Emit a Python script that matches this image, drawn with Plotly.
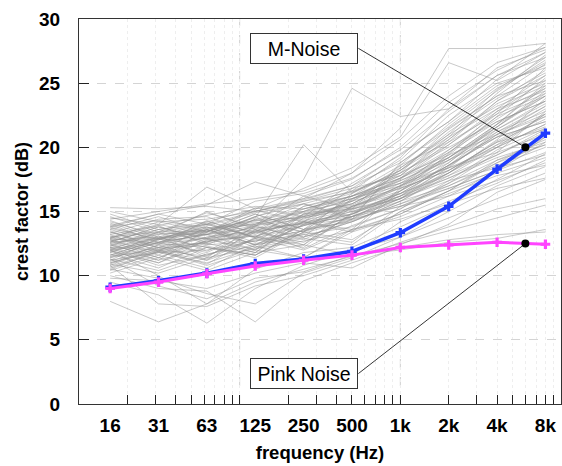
import math
import plotly.graph_objects as go

FREQS = [15.625, 31.25, 62.5, 125, 250, 500, 1000, 2000, 4000, 8000]
TICK_TEXT = ["16", "31", "63", "125", "250", "500", "1k", "2k", "4k", "8k"]
MINOR_TICKS = [20, 30, 40, 50, 60, 70, 80, 90, 100,
               200, 300, 400, 500, 600, 700, 800, 900, 1000,
               2000, 3000, 4000, 5000, 6000, 7000, 8000, 9000]
MAJOR_GRID = [100, 1000]

M_NOISE = [9.1, 9.6, 10.2, 10.95, 11.3, 11.9, 13.35, 15.4, 18.3, 21.1]
PINK_NOISE = [9.0, 9.5, 10.15, 10.75, 11.2, 11.6, 12.2, 12.4, 12.6, 12.45]

ANNOT_FREQ = 6000
ANNOT_M = 20.0
ANNOT_PINK = 12.5

SIGNALS = [
    [15.3, 15.2, 15.4, 15.0, 15.8, 16.5, 18.2, 21.0, 24.5, 27.0],
    [14.5, 14.0, 16.9, 15.2, 16.0, 17.0, 19.5, 22.0, 25.3, 28.1],
    [13.8, 14.8, 15.5, 17.3, 16.2, 17.5, 20.0, 23.5, 26.0, 27.8],
    [12.2, 12.9, 13.4, 14.5, 20.2, 16.5, 18.0, 21.5, 24.0, 26.5],
    [11.5, 12.0, 13.0, 13.8, 17.5, 24.6, 22.4, 23.0, 25.6, 27.0],
    [13.0, 13.4, 14.0, 15.0, 16.0, 18.0, 21.5, 27.7, 27.7, 28.1],
    [12.8, 13.0, 14.2, 15.2, 16.8, 18.4, 20.8, 26.6, 25.2, 27.4],
    [8.0, 6.4, 7.8, 9.5, 10.5, 11.5, 12.5, 13.5, 14.5, 15.5],
    [9.5, 8.5, 6.3, 9.0, 10.8, 12.0, 13.0, 14.5, 16.0, 17.5],
    [10.0, 9.0, 8.8, 6.4, 9.6, 11.0, 12.2, 12.8, 13.2, 13.4],
    [10.8, 7.8, 7.6, 9.2, 10.0, 11.2, 12.6, 13.8, 15.2, 16.0],
    [11.3, 9.2, 8.2, 9.8, 10.3, 11.6, 12.0, 12.6, 12.9, 13.6],
    [9.8, 9.6, 9.0, 10.2, 11.0, 10.6, 12.4, 14.0, 16.5, 18.0],
    [12.0, 10.0, 7.8, 10.5, 11.8, 12.2, 13.8, 15.5, 17.5, 19.5],
    [10.5, 9.8, 8.6, 7.8, 10.2, 11.4, 13.0, 15.0, 17.0, 18.5],
    [12.5, 11.2, 13.6, 12.4, 14.2, 13.6, 16.8, 19.2, 21.8, 24.0],
    [11.8, 13.1, 11.4, 13.9, 12.8, 14.6, 16.0, 18.5, 21.0, 23.2],
    [13.2, 11.9, 13.8, 12.6, 14.8, 15.6, 17.5, 20.2, 23.0, 25.6],
    [10.9, 12.4, 11.2, 13.6, 12.1, 13.9, 15.2, 17.4, 19.8, 21.5],
    [12.9, 13.9, 12.4, 14.0, 15.6, 14.4, 18.8, 21.6, 24.4, 26.8],
    [14.0, 12.6, 13.2, 14.6, 13.0, 16.0, 17.2, 19.0, 21.2, 22.8],
    [11.2, 12.9, 13.8, 12.4, 13.0, 14.2, 15.8, 18.0, 20.5, 22.4],
    [12.0, 10.8, 11.6, 12.9, 12.0, 13.6, 14.8, 16.6, 18.8, 20.2],
    [13.6, 14.6, 13.4, 15.1, 14.2, 16.8, 19.0, 22.5, 25.0, 26.2],
    [10.4, 11.6, 10.6, 12.4, 13.2, 12.6, 15.4, 16.8, 18.2, 19.6],
    [12.7, 11.4, 12.9, 11.8, 14.5, 15.2, 16.2, 18.0, 20.6, 23.8],
    [11.6, 12.8, 13.6, 12.2, 14.0, 15.8, 17.6, 19.8, 22.2, 24.6],
    [13.0, 12.0, 11.5, 13.4, 12.6, 14.4, 16.6, 19.5, 22.8, 25.2],
    [14.6, 13.4, 14.9, 13.8, 16.2, 15.2, 18.6, 20.4, 22.6, 24.2],
    [11.0, 12.0, 10.9, 13.0, 12.4, 14.8, 16.4, 18.6, 20.8, 22.0],
    [12.3, 13.6, 12.6, 14.4, 13.4, 15.4, 17.0, 18.4, 19.6, 21.0],
    [13.4, 12.4, 14.3, 12.9, 14.2, 15.9, 18.2, 21.2, 23.8, 25.8],
    [10.7, 11.9, 10.8, 12.0, 11.4, 13.4, 14.6, 16.2, 18.2, 20.8],
    [12.8, 11.6, 13.4, 14.8, 13.6, 16.2, 17.8, 20.8, 24.2, 27.2],
    [11.9, 13.0, 12.2, 11.6, 13.4, 12.8, 15.0, 16.4, 17.8, 18.6],
    [13.8, 12.8, 14.0, 13.0, 14.6, 15.6, 17.4, 19.2, 21.4, 23.4],
    [12.1, 11.0, 12.8, 13.6, 12.4, 15.4, 16.8, 18.2, 20.2, 22.6],
    [11.4, 12.6, 13.2, 12.0, 14.8, 16.0, 17.8, 20.6, 23.4, 25.0],
    [12.6, 13.8, 12.9, 14.6, 15.6, 14.6, 18.4, 21.0, 23.2, 24.8],
    [14.2, 13.2, 15.0, 13.6, 15.2, 16.2, 17.6, 19.6, 22.4, 25.4],
    [10.2, 11.4, 10.4, 11.8, 12.4, 11.6, 14.2, 15.8, 17.2, 19.0],
    [13.1, 12.2, 13.6, 12.4, 13.9, 14.8, 16.2, 18.8, 21.6, 24.4],
    [11.7, 10.6, 12.2, 11.4, 13.4, 14.6, 16.2, 17.6, 19.4, 21.2],
    [12.4, 13.4, 11.9, 13.8, 13.0, 14.2, 15.6, 17.2, 19.0, 20.6],
    [13.5, 12.1, 12.6, 13.9, 14.4, 15.8, 18.0, 20.0, 22.0, 23.6],
    [11.1, 12.4, 12.5, 11.8, 14.2, 13.4, 16.6, 19.0, 21.6, 24.2],
    [12.9, 14.2, 13.4, 15.3, 14.6, 17.2, 19.4, 22.0, 24.8, 26.4],
    [14.8, 13.6, 14.2, 13.4, 15.4, 16.4, 18.2, 20.6, 23.6, 26.0],
    [10.6, 11.8, 11.0, 12.2, 12.9, 12.4, 15.0, 16.6, 18.0, 19.2],
    [12.2, 11.2, 12.2, 11.6, 13.6, 14.6, 15.8, 17.0, 18.6, 20.0],
    [13.3, 14.4, 14.6, 13.2, 15.0, 15.8, 16.8, 18.2, 20.4, 22.2],
    [11.5, 12.6, 11.8, 13.5, 14.6, 15.5, 17.2, 19.6, 22.0, 23.6],
    [12.0, 13.4, 13.5, 14.2, 13.4, 16.4, 18.6, 21.8, 24.6, 26.6],
    [13.7, 12.8, 14.1, 13.0, 14.8, 15.2, 16.0, 17.6, 19.2, 20.4],
    [11.3, 10.4, 11.7, 12.3, 11.4, 13.6, 14.4, 15.6, 16.8, 17.6],
    [12.6, 13.8, 12.8, 14.4, 15.2, 16.0, 17.0, 18.8, 21.8, 24.8],
    [14.3, 13.0, 13.4, 14.8, 13.6, 15.4, 16.6, 18.6, 21.0, 22.6],
    [10.8, 12.2, 12.3, 11.6, 13.6, 14.2, 15.8, 17.8, 20.0, 21.8],
    [12.4, 11.4, 12.7, 13.1, 12.2, 14.9, 16.4, 18.0, 20.2, 21.6],
    [13.9, 14.8, 14.0, 15.8, 16.4, 17.6, 19.8, 22.8, 25.6, 27.4],
    [11.6, 12.8, 12.9, 12.0, 14.0, 14.4, 15.4, 17.0, 18.8, 20.8],
    [12.8, 11.8, 12.5, 13.3, 14.3, 15.1, 16.9, 19.4, 22.4, 24.0],
    [13.0, 14.0, 13.2, 14.6, 15.8, 16.8, 17.8, 19.4, 21.0, 22.4],
    [11.9, 11.0, 12.4, 12.7, 13.2, 13.8, 15.2, 17.2, 19.6, 22.8],
    [12.3, 13.3, 13.2, 13.9, 14.7, 15.6, 17.6, 20.4, 23.6, 25.6],
    [14.1, 12.9, 13.7, 14.3, 15.0, 16.6, 19.2, 23.0, 26.2, 27.6],
    [10.5, 11.9, 11.2, 12.5, 13.3, 14.4, 16.0, 18.2, 20.4, 21.4],
    [12.7, 13.6, 14.0, 13.0, 15.4, 16.2, 17.2, 18.4, 20.0, 21.8],
    [13.4, 12.2, 13.0, 13.5, 14.1, 15.0, 16.4, 18.6, 20.8, 23.0],
    [11.8, 12.9, 11.6, 12.8, 13.5, 14.6, 16.0, 17.4, 18.4, 19.4],
    [12.1, 12.6, 13.6, 14.3, 14.5, 15.3, 17.0, 19.8, 22.6, 26.2],
    [13.6, 12.6, 13.9, 14.9, 15.6, 16.6, 18.0, 20.2, 22.8, 24.6],
    [11.4, 12.2, 11.3, 12.9, 13.9, 14.8, 16.2, 18.4, 21.2, 23.2],
    [12.5, 13.2, 13.5, 14.0, 14.6, 15.4, 16.4, 17.8, 19.4, 21.4],
    [15.0, 14.2, 14.4, 15.0, 15.9, 17.0, 18.8, 21.4, 24.0, 25.2],
    [10.9, 10.2, 11.4, 12.1, 12.7, 13.5, 14.8, 16.6, 19.0, 20.2],
    [12.9, 12.5, 13.3, 14.1, 14.9, 16.0, 17.4, 19.0, 20.8, 22.0],
    [13.2, 13.9, 14.7, 15.4, 15.2, 16.2, 18.4, 20.8, 23.0, 24.4],
    [11.2, 11.8, 12.0, 12.7, 13.5, 14.3, 15.6, 16.8, 18.2, 20.4],
    [12.2, 12.0, 12.6, 13.4, 14.2, 14.8, 16.6, 18.6, 21.4, 23.6],
    [13.8, 14.3, 13.7, 14.0, 15.0, 16.2, 17.6, 19.2, 21.6, 24.0],
    [12.6, 12.9, 13.2, 13.7, 14.0, 15.0, 16.0, 18.0, 20.0, 22.6],
    [11.0, 11.9, 12.7, 13.1, 13.9, 15.2, 17.0, 19.2, 21.8, 25.0],
    [14.4, 15.0, 15.6, 16.0, 16.6, 18.0, 20.6, 24.0, 26.6, 27.8],
    [12.0, 12.5, 12.9, 13.4, 14.1, 14.6, 15.4, 16.2, 17.4, 18.8],
]

FONT = "Liberation Sans, Arial, Helvetica, sans-serif"

fig = go.Figure()

for sig in SIGNALS:
    fig.add_trace(go.Scatter(
        x=FREQS, y=sig, mode="lines",
        line=dict(color="rgba(145,145,145,0.62)", width=0.8),
        hoverinfo="skip", showlegend=False))

fig.add_trace(go.Scatter(
    x=FREQS, y=M_NOISE, mode="lines+markers", name="M-Noise",
    line=dict(color="#1f3cff", width=3.5),
    marker=dict(symbol="cross", size=8, color="#1f3cff"),
    showlegend=False))

fig.add_trace(go.Scatter(
    x=FREQS, y=PINK_NOISE, mode="lines+markers", name="Pink Noise",
    line=dict(color="#ff44ff", width=3),
    marker=dict(symbol="cross", size=8, color="#ff44ff"),
    showlegend=False))

fig.add_trace(go.Scatter(
    x=[ANNOT_FREQ, ANNOT_FREQ], y=[ANNOT_M, ANNOT_PINK], mode="markers",
    marker=dict(size=8, color="black"), hoverinfo="skip", showlegend=False))

for f in MAJOR_GRID:
    fig.add_shape(type="line", x0=f, x1=f, y0=0, y1=1, xref="x", yref="paper",
                  line=dict(color="#cfcfcf", width=1, dash="dash"), layer="below")

ann_common = dict(
    xref="x", yref="y", showarrow=True, arrowhead=0, arrowwidth=0.8,
    arrowcolor="black", xanchor="right", yanchor="middle",
    font=dict(family=FONT, size=19.5, color="black"),
    bgcolor="white", bordercolor="#333", borderwidth=1, borderpad=3,
    width=100, height=23, align="center")

fig.add_annotation(x=math.log10(ANNOT_FREQ), y=ANNOT_M, text="M-Noise",
                   ax=-167, ay=-99, **ann_common)
fig.add_annotation(x=math.log10(ANNOT_FREQ), y=ANNOT_PINK, text="Pink Noise",
                   ax=-167, ay=130, **ann_common)

fig.update_layout(
    width=562, height=466,
    margin=dict(l=79, r=1, t=19, b=62, autoexpand=False),
    paper_bgcolor="white", plot_bgcolor="white",
    font=dict(family=FONT, color="black"),
    xaxis=dict(
        type="log", range=[1, 4], automargin=False,
        tickmode="array", tickvals=FREQS, ticktext=TICK_TEXT,
        ticks="", showgrid=False, zeroline=False,
        showline=True, linecolor="#333", linewidth=1, mirror=True,
        tickfont=dict(family=FONT, size=19, weight="bold", color="black"),
        ticklabelstandoff=4,
        minor=dict(tickmode="array", tickvals=MINOR_TICKS, ticks="inside",
                   ticklen=9, tickcolor="#222", tickwidth=1,
                   showgrid=True, gridcolor="#eeeeee", griddash="dot", gridwidth=1),
        title=dict(text="frequency (Hz)", standoff=11,
                   font=dict(family=FONT, size=18.5, weight="bold", color="black")),
    ),
    yaxis=dict(
        range=[0, 30], tickmode="array", tickvals=[0, 5, 10, 15, 20, 25, 30],
        ticks="inside", ticklen=10, tickcolor="#222", automargin=False,
        showgrid=True, gridcolor="#d4d4d4", griddash="dash", zeroline=False,
        showline=True, linecolor="#333", linewidth=1, mirror=True,
        tickfont=dict(family=FONT, size=19, weight="bold", color="black"),
        ticklabelstandoff=14,
        title=dict(text="crest factor (dB)", standoff=5,
                   font=dict(family=FONT, size=18, weight="bold", color="black")),
    ),
)

fig.write_html("out.html", config={"displayModeBar": False},
               post_script="document.body.style.margin='0px';document.body.style.overflow='hidden';")
